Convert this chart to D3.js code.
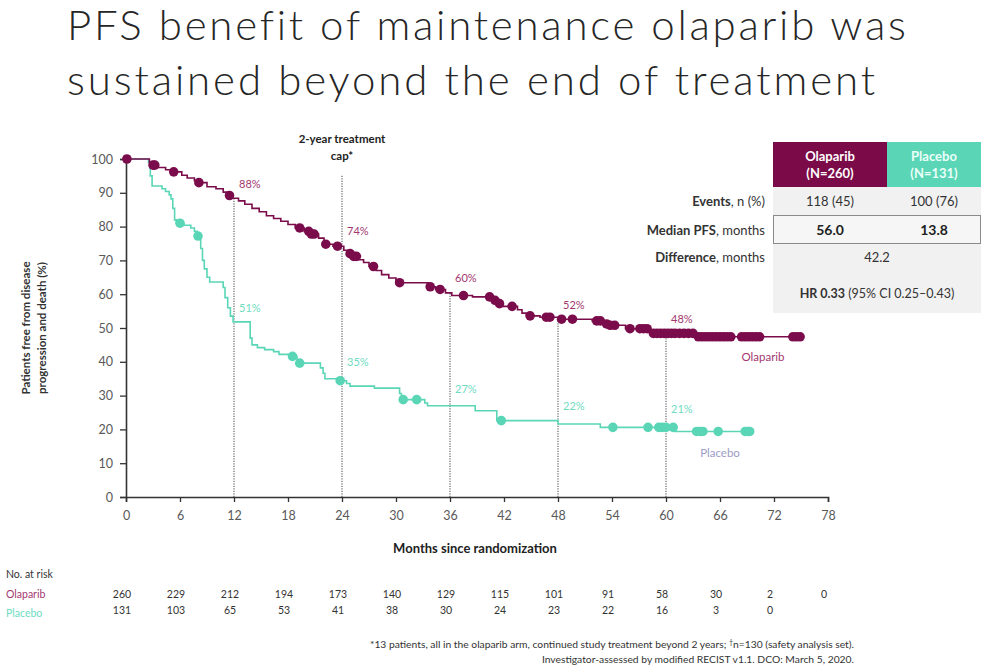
<!DOCTYPE html>
<html>
<head>
<meta charset="utf-8">
<script src="https://cdn.jsdelivr.net/npm/d3@7"></script>
<style>
  html, body { margin: 0; padding: 0; background: #fff; }
  svg { display: block; font-family: Lato, "Open Sans", sans-serif; }
</style>
</head>
<body>
<svg id="chart" width="988" height="667"></svg>
<script>
// ---------------- DATA ----------------
const titleLines = ["PFS benefit of maintenance olaparib was", "sustained beyond the end of treatment"];

const xTicks = [0, 6, 12, 18, 24, 30, 36, 42, 48, 54, 60, 66, 72, 78];
const yTicks = [0, 10, 20, 30, 40, 50, 60, 70, 80, 90, 100];

// Kaplan-Meier step curves: time (months) and survival (%) after each step
const olapTimes = [0, 2.6, 2.9, 3.4, 4.4, 5.0, 6.2, 6.8, 7.6, 8.0, 9.0, 10.0, 10.8, 11.3, 11.6, 12.5, 13.2, 14.0, 14.8, 15.6, 16.4, 17.2, 18.0, 18.8, 19.8, 20.4, 21.4, 22.0, 23.0, 24.2, 24.6, 25.0, 25.8, 26.4, 27.0, 27.8, 28.4, 29.2, 30.0, 33.6, 34.4, 35.5, 36.2, 38.5, 40.8, 41.2, 41.8, 43.5, 44.0, 44.5, 46.0, 48.0, 51.8, 53.0, 53.5, 55.5, 58.2, 63.4, 75.0];
const olapSurv  = [100, 99, 98.2, 97.5, 96.8, 96.2, 95.2, 94.4, 93.6, 93.0, 91.8, 91.2, 90.2, 89.2, 88.4, 87.6, 86.6, 85.4, 84.4, 83.2, 82.4, 81.6, 80.6, 79.6, 78.6, 77.8, 76.6, 74.8, 74.2, 73.0, 72.0, 71.2, 70.2, 69.4, 68.2, 67.0, 65.8, 64.8, 63.4, 62.2, 61.4, 60.4, 59.6, 59.2, 58.2, 57.2, 56.4, 55.4, 54.4, 53.6, 53.2, 52.6, 52.1, 51.2, 50.8, 49.8, 48.4, 47.4, 47.4];

const placTimes = [0, 2.5, 2.7, 2.9, 4.0, 4.4, 4.8, 5.0, 5.2, 5.4, 5.6, 6.4, 7.2, 7.6, 7.9, 8.3, 8.5, 8.7, 9.0, 9.3, 10.8, 11.0, 11.3, 11.6, 11.9, 13.8, 14.0, 14.6, 15.4, 16.4, 17.0, 18.2, 19.0, 19.2, 21.6, 21.9, 22.1, 23.6, 24.5, 24.9, 27.6, 30.4, 30.6, 33.2, 33.5, 38.8, 41.2, 48.0, 52.7, 61.0, 69.3];
const placSurv  = [100, 99, 95, 92, 91.2, 90.4, 89.4, 88.2, 85.4, 82, 81, 80.4, 79.6, 78.6, 77.2, 73.5, 70, 67.5, 65, 63.6, 62, 59, 56, 53.5, 51.8, 47, 45, 44.2, 43.6, 43, 42.2, 41.6, 40.6, 39.6, 38.2, 36.6, 35, 34.4, 33.6, 32.8, 32.2, 30.6, 28.8, 27.8, 27.0, 25.5, 22.6, 21.6, 20.6, 19.4, 19.4];

// Censoring marks (months)
const olapCensor = [0.1, 3.0, 3.2, 5.3, 8.1, 11.5, 19.3, 20.3, 20.6, 20.9, 22.2, 23.5, 24.9, 25.3, 25.6, 27.5, 30.4, 33.8, 34.9, 37.5, 40.4, 41.0, 41.5, 42.9, 44.9, 46.7, 47.1, 48.4, 49.6, 52.3, 52.7, 53.4, 53.8, 54.3, 56.0, 57.1, 57.5, 57.9, 58.6, 59.0, 59.4, 59.8, 60.2, 60.6, 61.0, 61.5, 62.0, 62.5, 63.0, 63.6, 64.0, 64.4, 64.8, 65.2, 65.6, 66.0, 66.4, 66.8, 67.2, 68.4, 68.8, 69.2, 69.6, 70.0, 70.4, 74.1, 74.5, 74.9];
const placCensor = [6.0, 8.0, 18.5, 19.3, 23.8, 30.8, 32.3, 41.7, 54.1, 58.0, 59.2, 59.6, 60.0, 60.8, 63.4, 63.8, 64.1, 65.8, 68.8, 69.1, 69.3];

// Landmark annotations
const milestoneMonths = [12, 24, 36, 48, 60];
const olapMilestone = ["88%", "74%", "60%", "52%", "48%"];
const placMilestone = ["51%", "35%", "27%", "22%", "21%"];
const capMonth = 24;
const capTop = 95.3;

// Number at risk
const riskMonths = [0, 6, 12, 18, 24, 30, 36, 42, 48, 54, 60, 66, 72, 78];
const riskOlap = [260, 229, 212, 194, 173, 140, 129, 115, 101, 91, 58, 30, 2, 0];
const riskPlac = [131, 103, 65, 53, 41, 38, 30, 24, 23, 22, 16, 3, 0];

// Summary table
const tableArms = ["Olaparib", "Placebo"];
const tableN = ["(N=260)", "(N=131)"];
const tableEvents = ["118 (45)", "100 (76)"];
const tableMedian = ["56.0", "13.8"];
const tableDiff = "42.2";

// ---------------- STYLE ----------------
const OLAP = "#7b0c4c";
const OLAP_HEAD = "#7a0a48";
const OLAP_TXT = "#a3376f";
const PLAC = "#5ad6b7";
const PLAC_TXT = "#6fdcc2";
const GREY = "#595959";

const svg = d3.select("#chart");

// ---------------- TITLE ----------------
const titleTargets = [838, 808];
const titleBase = [40, 95];
titleLines.forEach((t, i) => {
  const el = svg.append("text")
    .attr("x", 67).attr("y", titleBase[i])
    .attr("fill", "#262626")
    .style("font-family", "Lato, 'Open Sans', sans-serif")
    .style("font-weight", 300)
    .style("font-size", "42px")
    .text(t);
  const w = el.node().getComputedTextLength();
  const ls = (titleTargets[i] - w) / (t.length - 1);
  el.style("letter-spacing", ls.toFixed(2) + "px");
});

// ---------------- SCALES ----------------
const x = d3.scaleLinear().domain([0, 78]).range([126, 828]);
const y = d3.scaleLinear().domain([0, 100]).range([497, 159]);

function survAt(times, surv, t) {
  const i = d3.bisectRight(times, t) - 1;
  return surv[Math.max(0, i)];
}

// ---------------- AXES ----------------
const xAxis = d3.axisBottom(x).tickValues(xTicks).tickSize(5).tickPadding(9);
const gx = svg.append("g").attr("transform", "translate(0,497)").call(xAxis);
const yAxis = d3.axisLeft(y).tickValues(yTicks).tickSize(6).tickPadding(7);
const gy = svg.append("g").attr("transform", "translate(126,0)").call(yAxis);
[gx, gy].forEach(g => {
  g.select(".domain").attr("stroke", "#333").attr("stroke-width", 1.6);
  g.selectAll(".tick line").attr("stroke", "#333").attr("stroke-width", 1.3);
  g.selectAll(".tick text").attr("fill", GREY)
    .style("font-family", "Lato, sans-serif").style("font-size", "12.5px");
});

svg.append("text")
  .attr("x", 475).attr("y", 553).attr("text-anchor", "middle")
  .attr("fill", "#222").style("font-weight", 700).style("font-size", "13px")
  .text("Months since randomization");

const yl = svg.append("text")
  .attr("transform", "translate(30,328) rotate(-90)")
  .attr("text-anchor", "middle").attr("fill", "#333")
  .style("font-weight", 700).style("font-size", "11.5px");
yl.append("tspan").attr("x", 0).attr("dy", 0).text("Patients free from disease");
yl.append("tspan").attr("x", 0).attr("dy", 16).text("progression and death (%)");

// ---------------- LANDMARK LINES ----------------
svg.append("g").selectAll("line")
  .data(milestoneMonths)
  .join("line")
  .attr("x1", d => x(d)).attr("x2", d => x(d))
  .attr("y1", y(0))
  .attr("y2", d => d === capMonth ? y(capTop) : y(survAt(olapTimes, olapSurv, d)))
  .attr("stroke", "#444").attr("stroke-width", 1)
  .attr("stroke-dasharray", "1.2,1.3");

const capLbl = svg.append("text").attr("text-anchor", "middle")
  .attr("fill", "#222").style("font-weight", 700).style("font-size", "11.5px");
capLbl.append("tspan").attr("x", x(capMonth)).attr("y", 143).text("2-year treatment");
capLbl.append("tspan").attr("x", x(capMonth)).attr("y", 160).text("cap*");

// ---------------- CURVES ----------------
const line = d3.line()
  .x(d => x(d[0])).y(d => y(d[1]))
  .curve(d3.curveStepAfter);

function drawArm(times, surv, censor, color) {
  const pts = times.map((t, i) => [t, surv[i]]);
  svg.append("path").datum(pts)
    .attr("d", line).attr("fill", "none")
    .attr("stroke", color).attr("stroke-width", 1.6);
  svg.append("g").selectAll("circle")
    .data(censor).join("circle")
    .attr("cx", d => x(d))
    .attr("cy", d => y(survAt(times, surv, d)))
    .attr("r", 4.8).attr("fill", color);
}
drawArm(placTimes, placSurv, placCensor, PLAC);
drawArm(olapTimes, olapSurv, olapCensor, OLAP);

// milestone % labels
function milestoneLabels(labels, color, off) {
  svg.append("g").selectAll("text")
    .data(milestoneMonths).join("text")
    .attr("x", d => x(d) + 5)
    .attr("y", (d, i) => y(parseFloat(labels[i])) - off)
    .attr("fill", color).style("font-size", "11px")
    .text((d, i) => labels[i]);
}
milestoneLabels(olapMilestone, OLAP_TXT, 12);
milestoneLabels(placMilestone, PLAC_TXT, 13);

svg.append("text").attr("x", 763).attr("y", 361).attr("text-anchor", "middle")
  .attr("fill", OLAP_TXT).style("font-size", "11.5px").text("Olaparib");
svg.append("text").attr("x", 720).attr("y", 457).attr("text-anchor", "middle")
  .attr("fill", "#9c9cc6").style("font-size", "11.5px").text("Placebo");

// ---------------- SUMMARY TABLE ----------------
const tb = svg.append("g");
const colX = [773, 887, 981];
const colC = [830, 934];
tb.append("rect").attr("x", 773).attr("y", 187).attr("width", 208).attr("height", 126).attr("fill", "#f1f1f1");
tb.append("rect").attr("x", colX[0]).attr("y", 142).attr("width", colX[1] - colX[0]).attr("height", 45).attr("fill", OLAP_HEAD);
tb.append("rect").attr("x", colX[1]).attr("y", 142).attr("width", colX[2] - colX[1]).attr("height", 45).attr("fill", PLAC);
tb.append("rect").attr("x", 773.5).attr("y", 215.5).attr("width", 207).attr("height", 28)
  .attr("fill", "#f6f6f6").attr("stroke", "#8a8a8a").attr("stroke-width", 1);

tableArms.forEach((a, i) => {
  tb.append("text").attr("x", colC[i]).attr("y", 161).attr("text-anchor", "middle")
    .attr("fill", i === 0 ? "#fff" : "#eafff8").style("font-weight", 700).style("font-size", "13px").text(a);
  tb.append("text").attr("x", colC[i]).attr("y", 178).attr("text-anchor", "middle")
    .attr("fill", i === 0 ? "#fff" : "#eafff8").style("font-weight", 700).style("font-size", "13px").text(tableN[i]);
  tb.append("text").attr("x", colC[i]).attr("y", 206).attr("text-anchor", "middle")
    .attr("fill", "#333").style("font-size", "13px").text(tableEvents[i]);
  tb.append("text").attr("x", colC[i]).attr("y", 234.5).attr("text-anchor", "middle")
    .attr("fill", "#222").style("font-weight", 700).style("font-size", "14px").text(tableMedian[i]);
});
tb.append("text").attr("x", 877).attr("y", 262).attr("text-anchor", "middle")
  .attr("fill", "#333").style("font-size", "13px").text(tableDiff);
const hr = tb.append("text").attr("x", 877).attr("y", 298).attr("text-anchor", "middle")
  .attr("fill", "#333").style("font-size", "12.5px");
hr.append("tspan").style("font-weight", 700).text("HR 0.33");
hr.append("tspan").text(" (95% CI 0.25\u20130.43)");

const rowLabels = [["Events", ", n (%)", 206], ["Median PFS", ", months", 234.5], ["Difference", ", months", 262]];
rowLabels.forEach(r => {
  const t = tb.append("text").attr("x", 765).attr("y", r[2]).attr("text-anchor", "end")
    .attr("fill", "#333").style("font-size", "13px");
  t.append("tspan").style("font-weight", 700).text(r[0]);
  t.append("tspan").text(r[1]);
});

// ---------------- NUMBER AT RISK ----------------
svg.append("text").attr("x", 6).attr("y", 578).attr("fill", "#333").style("font-size", "10.5px").text("No. at risk");
svg.append("text").attr("x", 6).attr("y", 598).attr("fill", OLAP_TXT).style("font-size", "10.5px").text("Olaparib");
svg.append("text").attr("x", 6).attr("y", 617).attr("fill", PLAC_TXT).style("font-size", "10.5px").text("Placebo");
svg.append("g").selectAll("text").data(riskOlap).join("text")
  .attr("x", (d, i) => x(riskMonths[i]) - 4).attr("y", 598).attr("text-anchor", "middle")
  .attr("fill", "#333").style("font-size", "10.5px").text(d => d);
svg.append("g").selectAll("text").data(riskPlac).join("text")
  .attr("x", (d, i) => x(riskMonths[i]) - 4).attr("y", 614).attr("text-anchor", "middle")
  .attr("fill", "#333").style("font-size", "10.5px").text(d => d);

// ---------------- FOOTNOTE ----------------
const fn1 = svg.append("text").attr("x", 854).attr("y", 648).attr("text-anchor", "end")
  .attr("fill", "#333").style("font-size", "10.3px");
fn1.append("tspan").text("*13 patients, all in the olaparib arm, continued study treatment beyond 2 years; ");
fn1.append("tspan").attr("dy", -3).style("font-size", "7px").text("\u2020");
fn1.append("tspan").attr("dy", 3).text("n=130 (safety analysis set).");
svg.append("text").attr("x", 854).attr("y", 663).attr("text-anchor", "end")
  .attr("fill", "#333").style("font-size", "10.3px")
  .text("Investigator-assessed by modified RECIST v1.1. DCO: March 5, 2020.");
</script>
</body>
</html>
